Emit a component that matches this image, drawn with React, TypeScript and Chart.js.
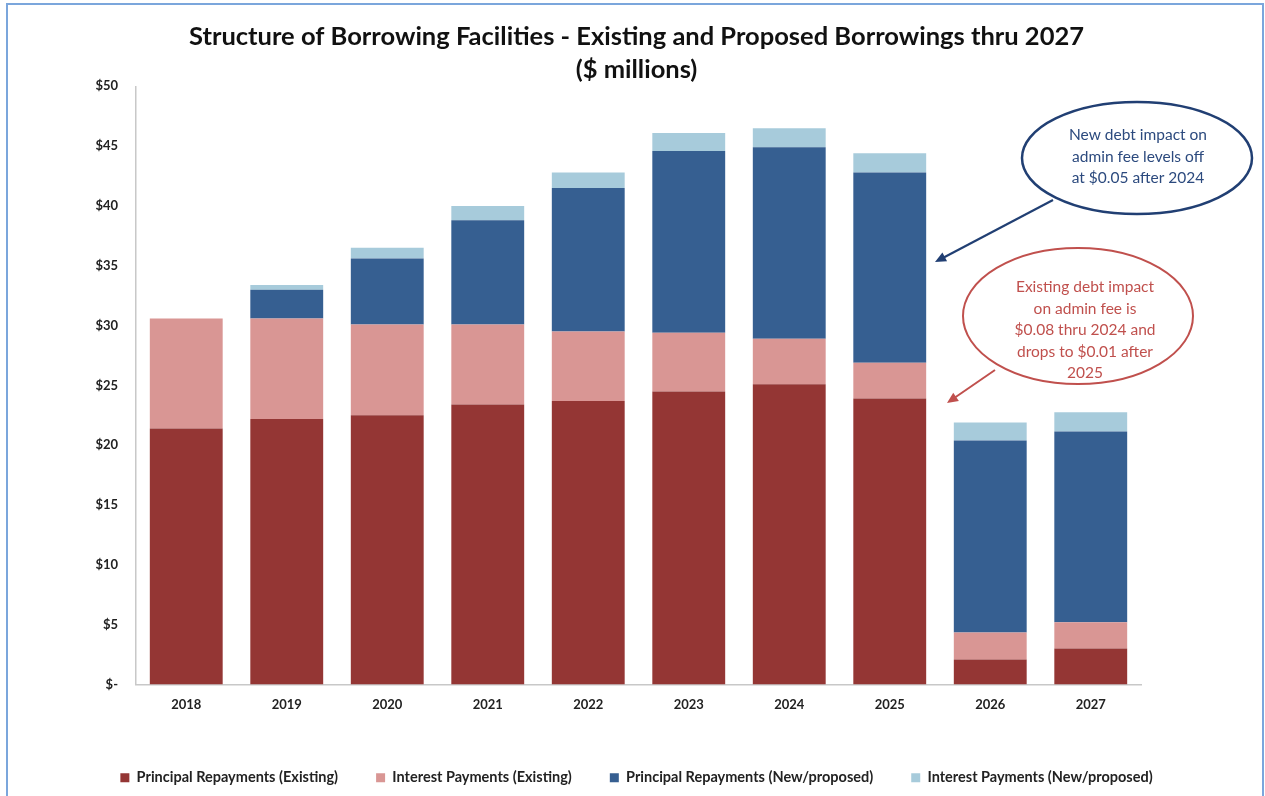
import React, { useEffect, useRef } from "react";
import { Chart, registerables } from "chart.js";

Chart.register(...registerables);

const years = ["2018", "2019", "2020", "2021", "2022", "2023", "2024", "2025", "2026", "2027"];
const principalExisting = [21.4, 22.2, 22.5, 23.4, 23.7, 24.5, 25.1, 23.9, 2.1, 3.0];
const interestExisting = [9.2, 8.4, 7.6, 6.7, 5.8, 4.9, 3.8, 3.0, 2.25, 2.2];
const principalNew = [0, 2.4, 5.5, 8.7, 12.0, 15.2, 16.0, 15.9, 16.05, 15.95];
const interestNew = [0, 0.4, 0.9, 1.2, 1.3, 1.5, 1.6, 1.6, 1.5, 1.6];

const seriesNames = [
  "Principal Repayments (Existing)",
  "Interest Payments (Existing)",
  "Principal Repayments (New/proposed)",
  "Interest Payments (New/proposed)",
];
const seriesColors = ["#943634", "#d99694", "#365f91", "#a7cbdb"];

const titleLines = [
  "Structure of Borrowing Facilities - Existing and Proposed Borrowings thru 2027",
  "($ millions)",
];

const blueNote = ["New debt impact on", "admin fee levels off", "at $0.05 after 2024"];
const redNote = ["Existing debt impact", "on admin fee is", "$0.08 thru 2024 and", "drops to $0.01 after", "2025"];

function arrow(ctx: CanvasRenderingContext2D, x1: number, y1: number, x2: number, y2: number, color: string, w: number) {
  const a = Math.atan2(y2 - y1, x2 - x1);
  const hl = 11;
  const hw = 5;
  ctx.save();
  ctx.strokeStyle = color;
  ctx.fillStyle = color;
  ctx.lineWidth = w;
  ctx.beginPath();
  ctx.moveTo(x1, y1);
  ctx.lineTo(x2 - Math.cos(a) * hl * 0.8, y2 - Math.sin(a) * hl * 0.8);
  ctx.stroke();
  ctx.beginPath();
  ctx.moveTo(x2, y2);
  ctx.lineTo(x2 - Math.cos(a) * hl - Math.sin(a) * hw, y2 - Math.sin(a) * hl + Math.cos(a) * hw);
  ctx.lineTo(x2 - Math.cos(a) * hl + Math.sin(a) * hw, y2 - Math.sin(a) * hl - Math.cos(a) * hw);
  ctx.closePath();
  ctx.fill();
  ctx.restore();
}

const notesPlugin = {
  id: "notes",
  afterDraw(chart: any) {
    const ctx: CanvasRenderingContext2D = chart.ctx;
    ctx.save();
    // blue ellipse
    ctx.beginPath();
    ctx.ellipse(1137, 158, 115, 56, 0, 0, Math.PI * 2);
    ctx.fillStyle = "#ffffff";
    ctx.fill();
    ctx.lineWidth = 2.5;
    ctx.strokeStyle = "#213f73";
    ctx.stroke();
    ctx.font = "15.5px Lato";
    ctx.textAlign = "center";
    ctx.textBaseline = "middle";
    ctx.fillStyle = "#2c4a7e";
    blueNote.forEach((t, i) => ctx.fillText(t, 1138, 135 + i * 21.5));
    arrow(ctx, 1053, 200, 935, 262, "#213f73", 2.2);
    // red ellipse
    ctx.beginPath();
    ctx.ellipse(1078, 316, 115, 68, 0, 0, Math.PI * 2);
    ctx.fillStyle = "#ffffff";
    ctx.fill();
    ctx.lineWidth = 2;
    ctx.strokeStyle = "#c0504d";
    ctx.stroke();
    ctx.fillStyle = "#c0504d";
    redNote.forEach((t, i) => ctx.fillText(t, 1085, 287 + i * 21.5));
    arrow(ctx, 995, 370, 947, 403, "#c0504d", 2);
    ctx.restore();
  },
};

export default function App() {
  const ref = useRef<HTMLCanvasElement>(null);
  useEffect(() => {
    const values = [principalExisting, interestExisting, principalNew, interestNew];
    const chart = new Chart(ref.current!, {
      type: "bar",
      data: {
        labels: years,
        datasets: values.map((v, i) => ({
          label: seriesNames[i],
          data: v,
          backgroundColor: seriesColors[i],
          borderWidth: 0,
          categoryPercentage: 1,
          barPercentage: 0.725,
          yAxisID: "y",
        })),
      },
      options: {
        responsive: false,
        animation: false,
        layout: { padding: { left: 8, right: 0, top: 0, bottom: 1 } },
        plugins: {
          title: {
            display: true,
            text: titleLines,
            color: "#111111",
            font: { family: "Lato", size: 25.5, weight: "bold", lineHeight: 1.3 },
            padding: { top: 20, bottom: 0 },
          },
          legend: {
            position: "bottom",
            labels: {
              boxWidth: 9,
              boxHeight: 9,
              padding: 38,
              color: "#222222",
              font: { family: "Lato", size: 14.5, weight: "bold" },
            },
          },
          tooltip: { enabled: false },
        },
        scales: {
          x: {
            stacked: true,
            grid: { display: false, drawTicks: false },
            border: { display: true, color: "#c8c8c8", width: 1.5 },
            ticks: { color: "#222222", padding: 13, font: { family: "Lato", size: 13, weight: "bold" } },
            afterFit: (s: any) => {
              s.height = 48;
            },
          },
          y: {
            stacked: true,
            min: 0,
            max: 50,
            grid: { display: false, drawTicks: false },
            border: { display: true, color: "#c8c8c8", width: 1.5 },
            ticks: {
              stepSize: 5,
              padding: 18,
              color: "#222222",
              font: { family: "Lato", size: 13, weight: "bold" },
              callback: (v: any) => (Number(v) === 0 ? "$-" : "$" + v),
            },
            afterFit: (s: any) => {
              s.width = 128;
            },
          },
          yRight: {
            position: "right",
            display: true,
            grid: { display: false, drawTicks: false },
            border: { display: false },
            ticks: { display: false },
            afterFit: (s: any) => {
              s.width = 124;
            },
          },
        },
      },
      plugins: [notesPlugin],
    } as any);
    return () => chart.destroy();
  }, []);

  return (
    <div style={{ position: "fixed", left: 0, top: 0, width: 1265, height: 796, overflow: "hidden", background: "#ffffff" }}>
      <div
        style={{
          position: "absolute",
          left: 6,
          top: 3,
          width: 1258,
          height: 900,
          border: "2px solid #7ba6dc",
          boxSizing: "border-box",
        }}
      />
      <canvas ref={ref} width={1265} height={796} style={{ position: "absolute", left: 0, top: 0 }} />
    </div>
  );
}
